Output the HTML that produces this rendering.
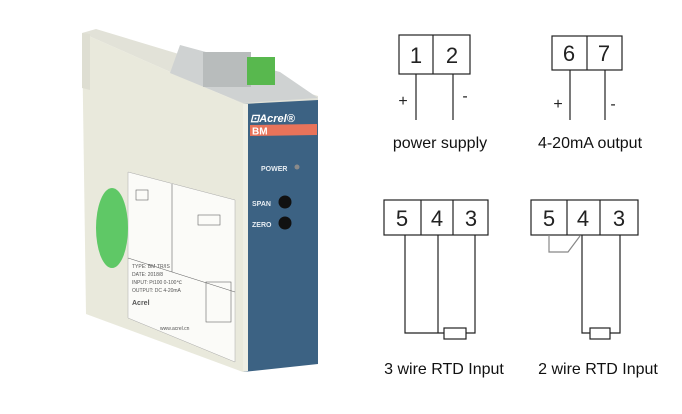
<!DOCTYPE html>
<html><head><meta charset="utf-8"><style>
html,body{margin:0;padding:0;background:#fff;}
svg{display:block;}
</style></head><body>
<svg width="682" height="414" viewBox="0 0 682 414" xmlns="http://www.w3.org/2000/svg" font-family="Liberation Sans, sans-serif">
<!-- device -->
<polygon points="82,33 96,29 318,96 318,102 243,104" fill="#e2e2d8"/>
<polygon points="82,33 243,104 243,372 86,314" fill="#e9e9dc"/>
<polygon points="82,33 90,34 90,90 82,88" fill="#deded2"/>
<polygon points="180,45 280,72 318,98 243,103 170,73" fill="#cfd2d2"/>
<rect x="203" y="52" width="48" height="35" fill="#b8bcbc"/>
<rect x="247" y="57" width="28" height="28" fill="#58b84e"/>
<polygon points="243,104 318,100 318,364 243,372" fill="#3c6283"/>
<polygon points="243,104 248,104 248,371 243,372" fill="#eeeee4"/>
<text x="250" y="122" font-size="11" font-weight="bold" font-style="italic" fill="#fff">⊡Acrel®</text>
<polygon points="250,125 317,124 317,135 250,136" fill="#e8735a"/>
<text x="252" y="134.5" font-size="10" font-weight="bold" fill="#fff">BM</text>
<text x="261" y="171" font-size="7" font-weight="bold" fill="#e6ecf2">POWER</text>
<circle cx="297" cy="167" r="2.5" fill="#8a8a8a"/>
<text x="252" y="206" font-size="7" font-weight="bold" fill="#e6ecf2">SPAN</text>
<circle cx="285" cy="202" r="6.5" fill="#111"/>
<text x="252" y="227" font-size="7" font-weight="bold" fill="#e6ecf2">ZERO</text>
<circle cx="285" cy="223" r="6.5" fill="#111"/>
<polygon points="128,172 235,200 235,362 128,318" fill="#fbfbf8" stroke="#aaa" stroke-width="0.5"/>
<ellipse cx="112" cy="228" rx="16" ry="40" fill="#5fc866"/>
<g stroke="#666" stroke-width="0.6" fill="none">
<line x1="128" y1="258" x2="235" y2="292"/>
<line x1="172" y1="184" x2="172" y2="272"/>
<rect x="198" y="215" width="22" height="10"/><rect x="136" y="190" width="12" height="10"/>
<rect x="206" y="282" width="25" height="40"/>
</g>
<g font-size="5" fill="#555">
<text x="132" y="268">TYPE: BM-TR/IS</text><text x="132" y="276">DATE: 2018/8</text>
<text x="132" y="284">INPUT: Pt100 0-100℃</text><text x="132" y="292">OUTPUT: DC 4-20mA</text>
<text x="132" y="305" font-size="7" font-weight="bold">Acrel</text>
<text x="160" y="330">www.acrel.cn</text>
</g>
<!-- power supply -->
<g stroke="#222" stroke-width="1.2" fill="none">
<rect x="399" y="35" width="71" height="39"/><line x1="433" y1="35" x2="433" y2="74"/>
<line x1="416" y1="74" x2="416" y2="120"/><line x1="453" y1="74" x2="453" y2="120"/>
<rect x="552" y="36" width="70" height="34"/><line x1="587" y1="36" x2="587" y2="70"/>
<line x1="570" y1="70" x2="570" y2="120"/><line x1="605" y1="70" x2="605" y2="120"/>
<rect x="384" y="200" width="104" height="35"/><line x1="421" y1="200" x2="421" y2="235"/><line x1="453" y1="200" x2="453" y2="235"/>
<polyline points="405,235 405,333 444,333"/><line x1="438" y1="235" x2="438" y2="333"/>
<polyline points="475,235 475,333 466,333"/><rect x="444" y="328" width="22" height="11"/>
<rect x="531" y="200" width="107" height="35"/><line x1="567" y1="200" x2="567" y2="235"/><line x1="600" y1="200" x2="600" y2="235"/>
<polyline points="582,235 582,333 590,333"/><polyline points="620,235 620,333 610,333"/><rect x="590" y="328" width="20" height="11"/>
</g>
<polyline points="549,235 549,252 568,252 580,236" stroke="#888" stroke-width="1.2" fill="none"/>
<g font-size="22" fill="#222" text-anchor="middle">
<text x="416" y="63">1</text><text x="452" y="63">2</text>
<text x="569" y="61">6</text><text x="604" y="61">7</text>
<text x="402" y="226">5</text><text x="437" y="226">4</text><text x="471" y="226">3</text>
<text x="549" y="226">5</text><text x="583" y="226">4</text><text x="619" y="226">3</text>
</g>
<g font-size="16" fill="#222" text-anchor="middle">
<text x="403" y="106">+</text><text x="465" y="101">-</text>
<text x="558" y="109">+</text><text x="613" y="109">-</text>
</g>
<g font-size="16" fill="#111" text-anchor="middle">
<text x="440" y="148">power supply</text><text x="590" y="148">4-20mA output</text>
<text x="444" y="374">3 wire RTD Input</text><text x="598" y="374">2 wire RTD Input</text>
</g>
</svg>
</body></html>
